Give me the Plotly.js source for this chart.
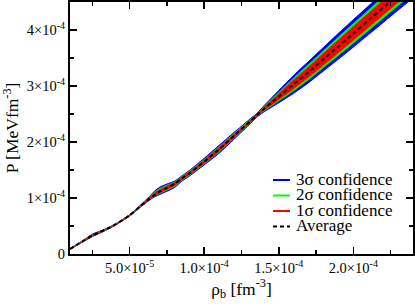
<!DOCTYPE html>
<html>
<head>
<meta charset="utf-8">
<script src="https://cdn.plot.ly/plotly-3.0.1.min.js"></script>
<style>html,body{margin:0;padding:0;background:#fff;}#chart{width:415px;height:306px;}</style>
</head>
<body>
<div id="chart"></div>
<script>
// baryon density, units of 1e-5 fm^-3
const rhoE5 = [1.0,1.5,2.0,2.5,3.0,3.5,4.0,5.0,5.7,6.3,6.7,7.0,7.5,8.0,8.5,9.0,10,11,12,13,13.5,14,15,16,17,18,19,20,21,22,23,24];
// average pressure, units of 1e-4 MeV fm^-3
const avgE4 = [0.09,0.17,0.25,0.33,0.39,0.45,0.52,0.69,0.85,0.98,1.06,1.11,1.18,1.25,1.35,1.44,1.65,1.87,2.11,2.35,2.47,2.59,2.81,3.03,3.25,3.48,3.71,3.94,4.17,4.40,4.63,4.86];
// band offsets above / below average (1e-4 MeV fm^-3)
const up3 = [0.010,0.010,0.015,0.025,0.018,0.014,0.012,0.012,0.018,0.040,0.070,0.080,0.070,0.050,0.045,0.050,0.060,0.070,0.060,0.045,0.035,0.055,0.110,0.160,0.190,0.210,0.230,0.245,0.255,0.265,0.275,0.290];
const lo3 = [0.010,0.010,0.015,0.020,0.018,0.014,0.012,0.012,0.018,0.025,0.035,0.050,0.060,0.065,0.050,0.050,0.060,0.070,0.060,0.045,0.035,0.055,0.110,0.160,0.190,0.210,0.230,0.245,0.255,0.265,0.275,0.290];
const up2 = [0.007,0.007,0.011,0.018,0.013,0.010,0.009,0.009,0.013,0.029,0.050,0.058,0.050,0.036,0.032,0.036,0.043,0.050,0.043,0.032,0.025,0.040,0.079,0.115,0.137,0.151,0.166,0.176,0.184,0.191,0.198,0.209];
const lo2 = [0.007,0.007,0.011,0.014,0.013,0.010,0.009,0.009,0.013,0.018,0.025,0.036,0.043,0.047,0.036,0.036,0.043,0.050,0.043,0.032,0.025,0.040,0.079,0.115,0.137,0.151,0.166,0.176,0.184,0.191,0.198,0.209];
const up1 = [0.005,0.005,0.008,0.012,0.009,0.007,0.006,0.006,0.009,0.020,0.035,0.040,0.035,0.025,0.022,0.025,0.030,0.035,0.030,0.022,0.018,0.028,0.055,0.080,0.095,0.105,0.115,0.122,0.128,0.133,0.138,0.145];
const lo1 = [0.005,0.005,0.008,0.010,0.009,0.007,0.006,0.006,0.009,0.012,0.018,0.025,0.030,0.032,0.025,0.025,0.030,0.035,0.030,0.022,0.018,0.028,0.055,0.080,0.095,0.105,0.115,0.122,0.128,0.133,0.138,0.145];

const xTickVals = [5e-5,1e-4,1.5e-4,2e-4];
const xTickText = ['5.0×10<sup>-5</sup>','1.0×10<sup>-4</sup>','1.5×10<sup>-4</sup>','2.0×10<sup>-4</sup>'];
const yTickVals = [0,1e-4,2e-4,3e-4,4e-4];
const yTickText = ['0','1×10<sup>-4</sup>','2×10<sup>-4</sup>','3×10<sup>-4</sup>','4×10<sup>-4</sup>'];
const legendNames = ['3σ confidence','2σ confidence','1σ confidence','Average'];
const legendColors = ['#0000ff','#00ff00','#ff0000','#000000'];

const SERIF = '"Liberation Serif", "Times New Roman", Times, serif';
const x = rhoE5.map(v => v*1e-5);
const avg = avgE4.map(v => v*1e-4);
function band(up, lo, color, lw){
  const lower = avgE4.map((v,i)=>(v-lo[i])*1e-4);
  const upper = avgE4.map((v,i)=>(v+up[i])*1e-4);
  return [
    {x:x, y:lower, mode:'lines', line:{color:color, width:lw, shape:'spline', smoothing:0.7}, showlegend:false, hoverinfo:'skip'},
    {x:x, y:upper, mode:'lines', fill:'tonexty', fillcolor:color, line:{color:color, width:lw, shape:'spline', smoothing:0.7}, showlegend:false, hoverinfo:'skip'}
  ];
}
const traces = [].concat(
  band(up3, lo3, '#0000ff', 1),
  band(up2, lo2, '#00ff00', 0.5),
  band(up1, lo1, '#ff0000', 0.5),
  [{x:x, y:avg, mode:'lines', line:{color:'#000', width:2, dash:'4px,3px', shape:'spline', smoothing:0.7}, showlegend:false}]
);

// manual legend (paper coordinates derived from plot pixels)
const L = 70, W = 343, T = 2, H = 252;
const px = v => (v - L)/W, py = v => (T + H - v)/H;
const rows = [179, 194.5, 210, 225.5];
const shapes = [], annotations = [];
rows.forEach((r,i)=>{
  shapes.push({type:'line', xref:'paper', yref:'paper', x0:px(273), x1:px(290), y0:py(r+1), y1:py(r+1),
    line:{color:legendColors[i], width:2, dash: i===3 ? '4px,3px' : 'solid'}});
  annotations.push({xref:'paper', yref:'paper', x:px(294), y:py(r), xanchor:'left', yanchor:'middle',
    text:legendNames[i], showarrow:false, font:{family:SERIF, size:17, color:'#000'}});
});

const axisCommon = {
  showline:true, linecolor:'#000', linewidth:2, mirror:'ticks',
  ticks:'inside', ticklen:7, tickwidth:1.5, tickcolor:'#000',
  showgrid:false, zeroline:false,
  tickfont:{family:SERIF, size:14.5, color:'#000'}
};
const layout = {
  width:415, height:306,
  margin:{l:70, r:2, t:2, b:52},
  paper_bgcolor:'#fff', plot_bgcolor:'#fff',
  font:{family:SERIF, color:'#000'},
  showlegend:false,
  xaxis: Object.assign({}, axisCommon, {
    range:[1e-5, 2.4e-4], tickmode:'array', tickvals:xTickVals, ticktext:xTickText,
    minor:{ticks:'inside', ticklen:4, tickwidth:1.5, tickcolor:'#000', tickmode:'linear', tick0:0, dtick:2.5e-5, showgrid:false},
    title:{text:'ρ<sub>b</sub> [fm<sup>-3</sup>]', font:{family:SERIF, size:17.5, color:'#000'}, standoff:6}
  }),
  yaxis: Object.assign({}, axisCommon, {
    range:[0, 4.5e-4], tickmode:'array', tickvals:yTickVals, ticktext:yTickText,
    minor:{ticks:'inside', ticklen:4, tickwidth:1.5, tickcolor:'#000', tickmode:'linear', tick0:0, dtick:5e-5, showgrid:false},
    title:{text:'P [MeVfm<sup>-3</sup>]', font:{family:SERIF, size:17.5, color:'#000'}, standoff:4}
  }),
  shapes:shapes, annotations:annotations
};
Plotly.newPlot('chart', traces, layout, {staticPlot:true, displayModeBar:false});
</script>
</body>
</html>
